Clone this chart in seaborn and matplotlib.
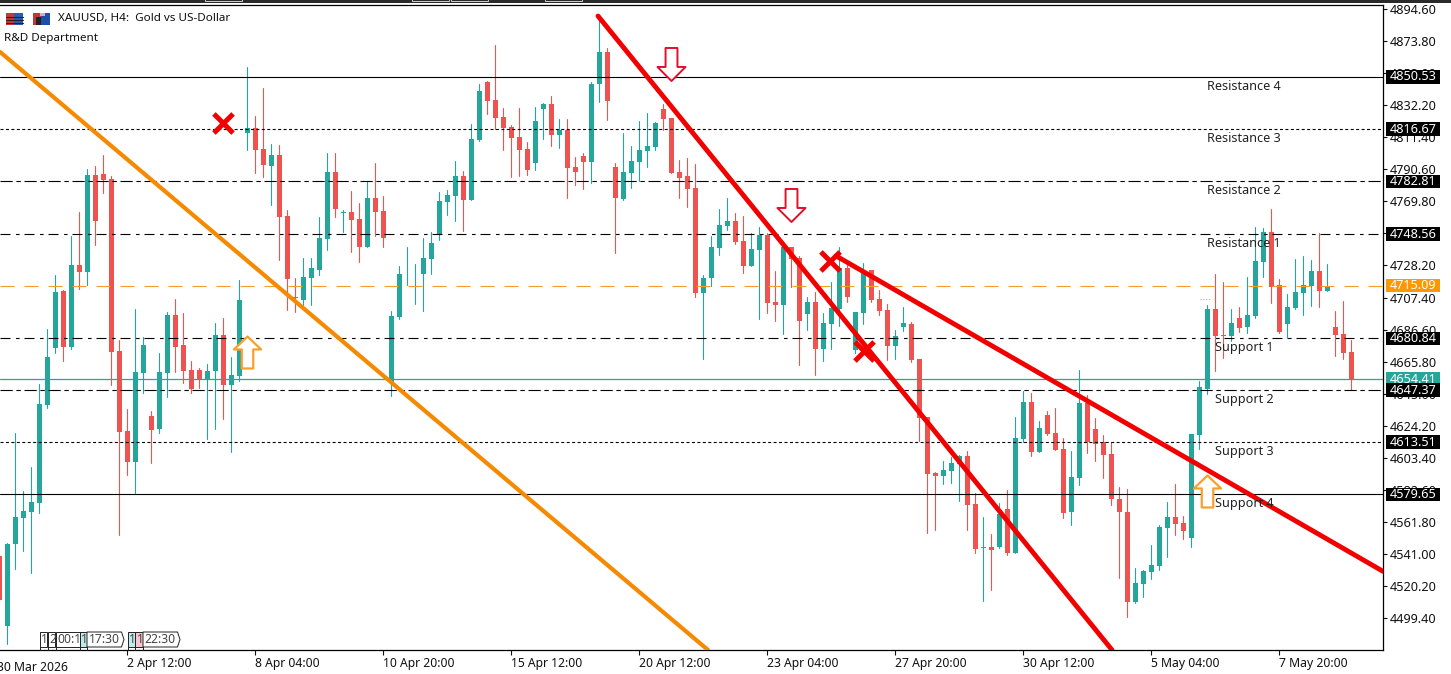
import numpy as np
import pandas as pd
import matplotlib
matplotlib.use("Agg")
import matplotlib.pyplot as plt
from matplotlib.patches import Rectangle, Polygon
from matplotlib.path import Path
from matplotlib.transforms import blended_transform_factory
import seaborn as sns

opens = [4539.7,4494.2,4547.4,4564.3,4568.2,4574.1,4637.7,4674.6,4711.6,4675.3,
4728.5,4724.0,4786.9,4787.6,4784.3,4672.7,4620.8,4600.7,4658.4,4630.5,
4622.1,4658.4,4696.1,4676.6,4660.4,4660.4,4653.9,4659.7,4683.1,4650.6,
4656.5,4814.2,4817.4,4803.8,4792.8,4799.9,4760.3,4707.8,4705.8,4720.1,
4725.3,4745.4,4788.9,4762.5,4762.9,4758.4,4740.2,4772.0,4763.6,4652.6,
4694.8,4723.0,4723.0,4722.7,4732.4,4748.0,4769.4,4773.3,4786.3,4770.7,
4809.6,4847.3,4835.6,4824.6,4818.1,4811.6,4803.8,4794.7,4829.8,4833.0,
4812.9,4816.1,4792.1,4799.3,4795.4,4846.0,4866.8,4792.1,4771.4,4788.2,
4795.4,4802.5,4805.1,4829.8,4823.9,4788.9,4786.3,4778.5,4710.3,4720.1,
4739.6,4753.8,4757.1,4744.1,4727.9,4738.3,4748.0,4704.5,4702.6,4740.2,
4733.1,4696.7,4704.5,4674.0,4690.2,4700.0,4726.6,4673.3,4697.4,4725.3,
4706.4,4699.3,4676.0,4688.3,4690.2,4667.5,4629.9,4593.5,4591.6,4594.8,
4599.4,4604.6,4573.4,4544.6,4545.5,4545.5,4570.2,4541.6,4615.6,4639.6,
4607.2,4631.2,4619.5,4609.1,4568.2,4590.3,4639.0,4622.1,4613.6,4605.9,
4576.6,4568.2,4509.8,4521.5,4529.3,4533.2,4557.8,4565.0,4561.1,4551.3,
4618.2,4648.0,4700.0,4683.1,4682.4,4694.1,4688.3,4695.4,4730.5,4749.9,
4715.5,4690.2,4700.6,4710.3,4714.9,4724.6,4711.6,4688.3,4683.7,4672.1]
highs = [4543.5,4548.1,4619.5,4581.8,4597.4,4651.3,4687.0,4722.0,4712.3,4747.3,
4762.9,4790.8,4792.8,4799.9,4786.3,4679.8,4635.1,4700.0,4681.8,4633.8,
4671.4,4698.0,4706.4,4697.4,4666.2,4661.7,4664.3,4690.9,4694.1,4668.8,
4718.8,4857.0,4825.2,4843.4,4807.0,4806.4,4764.2,4720.1,4733.1,4733.1,
4759.7,4801.2,4801.2,4764.2,4776.5,4768.8,4782.4,4794.7,4773.3,4698.7,
4727.9,4740.2,4729.2,4746.0,4749.9,4775.9,4777.2,4796.0,4789.5,4820.0,
4846.0,4847.9,4871.3,4830.4,4819.4,4830.4,4808.3,4831.1,4833.7,4838.2,
4823.3,4823.3,4798.6,4801.2,4847.3,4890.8,4869.3,4794.7,4814.2,4805.7,
4822.0,4827.2,4821.3,4833.0,4823.9,4796.7,4798.0,4794.1,4722.0,4747.3,
4764.9,4772.0,4762.3,4760.3,4749.3,4753.2,4749.3,4724.6,4740.2,4740.2,
4734.4,4707.8,4711.0,4697.4,4717.5,4740.2,4728.5,4698.0,4729.8,4725.3,
4712.3,4703.2,4686.3,4701.3,4691.5,4667.5,4629.9,4594.2,4601.3,4603.9,
4605.2,4607.8,4580.5,4565.0,4553.9,4574.1,4582.5,4629.9,4646.7,4645.4,
4627.3,4633.8,4635.7,4616.2,4607.8,4660.4,4644.1,4629.2,4618.2,4613.6,
4584.4,4583.1,4531.9,4530.6,4546.8,4559.8,4574.7,4586.4,4565.6,4618.8,
4653.2,4702.6,4722.7,4717.5,4700.0,4701.3,4720.7,4753.2,4752.5,4764.9,
4719.4,4709.7,4732.4,4734.4,4731.8,4749.3,4729.2,4698.7,4705.2,4679.8]
lows = [4507.9,4482.5,4531.2,4542.9,4528.6,4567.6,4635.7,4671.4,4666.2,4674.0,
4712.9,4715.5,4741.5,4775.2,4650.6,4553.3,4592.2,4580.5,4645.4,4600.0,
4619.5,4642.8,4659.1,4651.9,4645.4,4648.7,4615.6,4622.1,4628.6,4607.2,
4653.2,4803.1,4788.2,4785.6,4767.5,4731.8,4699.3,4698.0,4702.6,4702.6,
4722.0,4738.3,4759.7,4749.9,4737.0,4730.5,4740.2,4747.3,4740.2,4643.5,
4693.5,4715.5,4703.2,4698.7,4722.7,4744.7,4761.0,4757.1,4750.6,4770.7,
4809.0,4826.5,4816.8,4803.1,4785.6,4786.3,4786.9,4790.2,4810.3,4805.7,
4804.4,4772.0,4780.4,4777.8,4781.7,4834.3,4822.6,4736.3,4770.7,4778.5,
4783.0,4792.1,4803.1,4816.1,4788.2,4772.0,4766.2,4707.8,4667.5,4714.9,
4735.0,4751.2,4742.1,4723.3,4727.9,4693.5,4697.4,4692.2,4683.7,4714.2,
4663.6,4686.3,4657.1,4666.2,4674.0,4688.9,4704.5,4671.4,4690.2,4704.5,
4696.1,4666.9,4667.5,4685.7,4665.6,4614.3,4554.6,4556.5,4586.4,4587.0,
4575.4,4556.5,4541.6,4510.4,4517.6,4544.9,4540.3,4541.6,4613.6,4604.6,
4607.2,4618.2,4608.5,4564.3,4559.8,4585.7,4606.5,4601.3,4590.3,4572.8,
4525.4,4500.1,4509.2,4513.0,4524.7,4530.6,4539.0,4553.3,4550.7,4545.5,
4609.1,4644.8,4659.7,4668.2,4679.2,4685.0,4684.4,4694.1,4720.7,4703.9,
4684.4,4681.1,4700.0,4696.1,4701.9,4701.3,4711.6,4669.5,4667.5,4647.4]
closes = [4511.1,4547.4,4565.0,4568.9,4574.7,4638.3,4668.8,4711.0,4675.3,4728.5,
4724.0,4786.9,4757.1,4783.7,4672.1,4620.1,4600.7,4659.1,4676.6,4621.4,
4659.1,4696.1,4675.3,4659.7,4648.0,4654.5,4659.7,4683.1,4650.6,4657.1,
4705.8,4817.4,4803.1,4793.4,4799.9,4759.7,4719.4,4707.1,4720.7,4726.6,
4746.0,4788.9,4764.9,4763.1,4757.7,4740.2,4772.0,4762.9,4746.0,4695.4,
4722.7,4723.6,4723.6,4733.1,4742.8,4770.1,4774.0,4786.3,4770.7,4810.3,
4841.4,4835.0,4823.9,4817.4,4810.9,4803.1,4790.2,4822.0,4833.0,4812.9,
4816.1,4791.5,4788.9,4795.4,4846.0,4866.8,4835.0,4772.0,4788.9,4796.0,
4803.1,4805.7,4820.7,4823.3,4788.2,4785.0,4777.8,4710.3,4720.1,4740.2,
4754.5,4757.1,4743.4,4727.9,4738.9,4748.0,4703.9,4702.6,4740.2,4732.4,
4692.2,4704.5,4674.0,4690.9,4700.6,4726.6,4707.8,4698.0,4723.3,4705.8,
4698.7,4676.0,4682.4,4690.9,4666.9,4629.2,4592.9,4591.6,4595.5,4600.0,
4604.6,4572.8,4544.2,4545.2,4543.5,4566.9,4541.6,4616.2,4639.6,4607.2,
4622.7,4618.8,4608.5,4567.6,4590.9,4639.0,4613.6,4612.3,4605.2,4576.6,
4568.2,4509.8,4522.1,4529.9,4533.8,4558.5,4565.0,4560.4,4555.9,4618.8,
4649.3,4700.0,4682.4,4682.4,4690.9,4687.6,4696.1,4731.1,4749.9,4714.2,
4685.0,4701.3,4711.0,4715.5,4724.6,4711.6,4714.2,4683.1,4671.4,4654.4]

first_candle = -1
date_ticks = [15, 31, 47, 63, 79, 95, 111, 127, 143, 159]
date_labels = ["2 Apr 12:00", "8 Apr 04:00", "10 Apr 20:00", "15 Apr 12:00", "20 Apr 12:00",
               "23 Apr 04:00", "27 Apr 20:00", "30 Apr 12:00", "5 May 04:00", "7 May 20:00"]
price_ticks = [4894.6, 4873.8, 4853.0, 4832.2, 4811.4, 4790.6, 4769.8, 4749.0, 4728.2, 4707.4,
               4686.6, 4665.8, 4645.0, 4624.2, 4603.4, 4582.6, 4561.8, 4541.0, 4520.2, 4499.4]

level_names = ["Resistance 4", "Resistance 3", "Resistance 2", "Resistance 1",
               "Support 1", "Support 2", "Support 3", "Support 4"]
level_values = [4850.53, 4816.67, 4782.81, 4748.56, 4680.84, 4647.37, 4613.51, 4579.65]
pivot_level = 4715.09
bid_level = 4654.41

orange_x = [-0.91, 87.6]
orange_y = [4866.8, 4478.6]
red1_x = [73.84, 138.1]
red1_y = [4890.1, 4478.6]
red2_x = [103.6, 172.0]
red2_y = [4734.4, 4529.6]
cross_x = [27.0, 102.9, 107.1]
cross_y = [4820.7, 4731.1, 4672.7]
down_x = [82.96, 98.0]
down_y = [4859.0, 4767.5]
up_x = [29.96, 149.96]
up_y = [4672.1, 4581.8]

GREEN, RED = "#26A69A", "#EF5350"
ORANGE, TLRED = "#F58A00", "#F20000"

sns.set_theme(style="white")
plt.rcParams["font.family"] = ["Noto Sans", "DejaVu Sans"]
FS = 9.1
FS_DATE = 8.75
FS_HEAD = 8.4
W, H = 1451, 674
fig = plt.figure(figsize=(W / 100, H / 100), dpi=100, facecolor="white")
L, B, R, T = 0, 650.3, 1383.3, 5.0
ax = fig.add_axes([L / W, 1 - B / H, (R - L) / W, (B - T) / H], facecolor="white")

idx = np.arange(len(opens)) + first_candle
df = pd.DataFrame({"i": idx, "o": opens, "h": highs, "l": lows, "c": closes})
df["up"] = df.c >= df.o

wicks = pd.concat([df.assign(price=df.h), df.assign(price=df.l)]).sort_values("i", kind="stable")
sns.lineplot(data=wicks, x="i", y="price", units="i", hue="up", palette={True: GREEN, False: RED},
             estimator=None, sort=False, lw=0.8, legend=False, ax=ax, zorder=2)
for flag, col in [(True, GREEN), (False, RED)]:
    s = df[df.up == flag]
    ax.bar(s.i, (s.c - s.o).abs(), bottom=s[["o", "c"]].min(axis=1), width=5 / 8, color=col, lw=0, zorder=2.1)

DOTTED = (0, (2.7, 2.2))
DASHDOT = (0, (9, 5, 3.2, 4.4))
DASHDOTTIGHT = (0, (11, 3.3, 4, 3.3))
styles = {
    4850.53: "-",
    4816.67: DOTTED,
    4782.81: DASHDOTTIGHT,
    4748.56: DASHDOT,
    4680.84: DASHDOT,
    4647.37: DASHDOTTIGHT,
    4613.51: DOTTED,
    4579.65: "-",
}
for v in level_values:
    ax.axhline(v, color="black", lw=0.8, ls=styles[v], zorder=3)
ax.axhline(pivot_level, color="#F39C2A", lw=0.8, ls=(0, (12.6, 9)), zorder=3)
ax.axhline(bid_level, color=GREEN, lw=0.9, zorder=3)

for xs, ys, col, lw in [(orange_x, orange_y, ORANGE, 3.0), (red1_x, red1_y, TLRED, 3.5), (red2_x, red2_y, TLRED, 3.5)]:
    sns.lineplot(x=xs, y=ys, color=col, lw=lw, ax=ax, zorder=4, estimator=None, sort=False,
                 solid_capstyle="round", legend=False)

sns.scatterplot(x=cross_x, y=cross_y, marker="x", s=190, color=TLRED, linewidth=3.6, ax=ax, zorder=5, legend=False)
down_path = Path([(-.36, 1), (.36, 1), (.36, -.15), (.85, -.15), (0, -1), (-.85, -.15), (-.36, -.15), (-.36, 1)], closed=True)
up_path = Path([(0, 1), (.85, .19), (.36, .19), (.36, -1), (-.36, -1), (-.36, .19), (-.85, .19), (0, 1)], closed=True)
ax.scatter(down_x, down_y, marker=down_path, s=565, facecolors="white", edgecolors="#E0102A", linewidths=1.4, zorder=5)
ax.scatter(up_x, up_y, marker=up_path, s=530, facecolors="white", edgecolors="#F7A02B", linewidths=1.6, zorder=5)

ax.set_xlim(-0.9125, 172.0)
ax.set_ylim(4900.5 - 0.649 * B, 4900.5 - 0.649 * T)
ax.set(xlabel="", ylabel="")
ax.set_xticks(date_ticks)
ax.set_xticklabels(date_labels, ha="left")
ax.yaxis.tick_right()
ax.set_yticks(price_ticks)
ax.set_yticklabels([f"{p:.2f}" for p in price_ticks])
ax.tick_params(axis="x", length=3.4, width=0.8, pad=1.5, labelsize=FS_DATE, colors="#111111", bottom=True)
ax.tick_params(axis="y", length=3.2, width=0.8, pad=1.2, labelsize=FS, colors="#111111", right=True)
for s in ["top", "right", "bottom"]:
    ax.spines[s].set_visible(True)
    ax.spines[s].set_color("black")
    ax.spines[s].set_linewidth(0.9)
ax.spines["left"].set_visible(False)

xtr = blended_transform_factory(ax.transData, ax.transAxes)
ax.text(first_candle - 0.25, -0.0165, "30 Mar 2026", transform=xtr, ha="left", va="top", fontsize=FS_DATE,
        color="#111111", clip_on=False)

ptr = blended_transform_factory(ax.transAxes, ax.transData)
box_x0 = 1386 / R
box_w = 54 / R
tags = [(v, "black", "white") for v in level_values] + [(pivot_level, "#FF9800", "white"), (bid_level, GREEN, "white")]
for v, fc, tc in sorted(tags, key=lambda t: -t[0]):
    ax.add_patch(Rectangle((box_x0, v - 4.4), box_w, 8.8, transform=ptr, fc=fc, ec="none", clip_on=False, zorder=6))
    ax.text(box_x0 + box_w / 2, v, f"{v:.2f}", transform=ptr, ha="center", va="center", color=tc,
            fontsize=FS, clip_on=False, zorder=7)

for name, v in zip(level_names, level_values):
    px = 1207 if name.startswith("R") else 1215
    ax.text(px / R, v - 6.0, name, transform=ptr, ha="left", va="center", fontsize=FS, color="#222222", zorder=5)

ov = fig.add_axes([0, 0, 1, 1], facecolor="none")
ov.set_xlim(0, W)
ov.set_ylim(H, 0)
ov.axis("off")
ov.add_patch(Rectangle((0, 0), W, 3.2, fc="#2A2A2A", ec="none"))
for x0, x1 in [(205, 242), (412, 449), (451, 488), (545, 582)]:
    ov.add_patch(Rectangle((x0, -1), x1 - x0, 2.4, fc="#2A2A2A", ec="#CCCCCC", lw=0.7))
ov.add_patch(Rectangle((6, 13), 8, 12, fc="#C83A3A", ec="none"))
ov.add_patch(Rectangle((14, 13), 9, 12, fc="#2A5CB8", ec="none"))
for y in (16.5, 19.5, 22.5):
    ov.plot([6, 23], [y, y], color="#222222", lw=0.8)
ov.add_patch(Rectangle((33, 13), 8, 12, fc="#B83A3A", ec="none"))
ov.add_patch(Rectangle((41, 13), 9, 12, fc="#1E4FA8", ec="none"))
ov.add_patch(Rectangle((36, 17), 5, 8, fc="#222222", ec="none"))
ov.add_patch(Rectangle((40, 13), 5, 3, fc="#BBBBBB", ec="none"))
ov.text(58, 19, "XAUUSD, H4:  Gold vs US-Dollar", fontsize=FS_HEAD, color="#111111", va="center")
ov.text(4, 38, "R&D Department", fontsize=FS_HEAD, color="#111111", va="center")
ov.plot([1200, 1210], [299, 299], color=ORANGE, lw=0.7, ls=(0, (1, 2)))

tag_boxes = [(39.5, 46.5, "1", "white", False), (47.5, 54.5, "2", "white", False), (55.5, 79.5, "00:1", "white", False),
             (79.5, 87, "1", "#BDEBEB", False), (87, 124, "17:30", "white", True), (127.5, 135, "1", "#BDEBEB", False),
             (135, 143, "1", "#F7C5CC", False), (143, 180, "22:30", "white", True)]
for x0, x1, s, fc, arrow in tag_boxes:
    if arrow:
        pts = [(x0, 632), (x1 - 2.5, 632), (x1, 639.5), (x1 - 2.5, 647), (x0, 647)]
    else:
        pts = [(x0, 632), (x1, 632), (x1, 647), (x0, 647)]
    ov.add_patch(Polygon(pts, closed=True, fc=fc, ec="#222222", lw=0.7))
    ov.plot([x0, x0], [647, 650], color="#222222", lw=0.7)
    ov.text(x0 + 1.5, 639.5, s, fontsize=FS_DATE, color="#444444", va="center", ha="left")

fig.savefig("out.png", dpi=100, facecolor="white")
